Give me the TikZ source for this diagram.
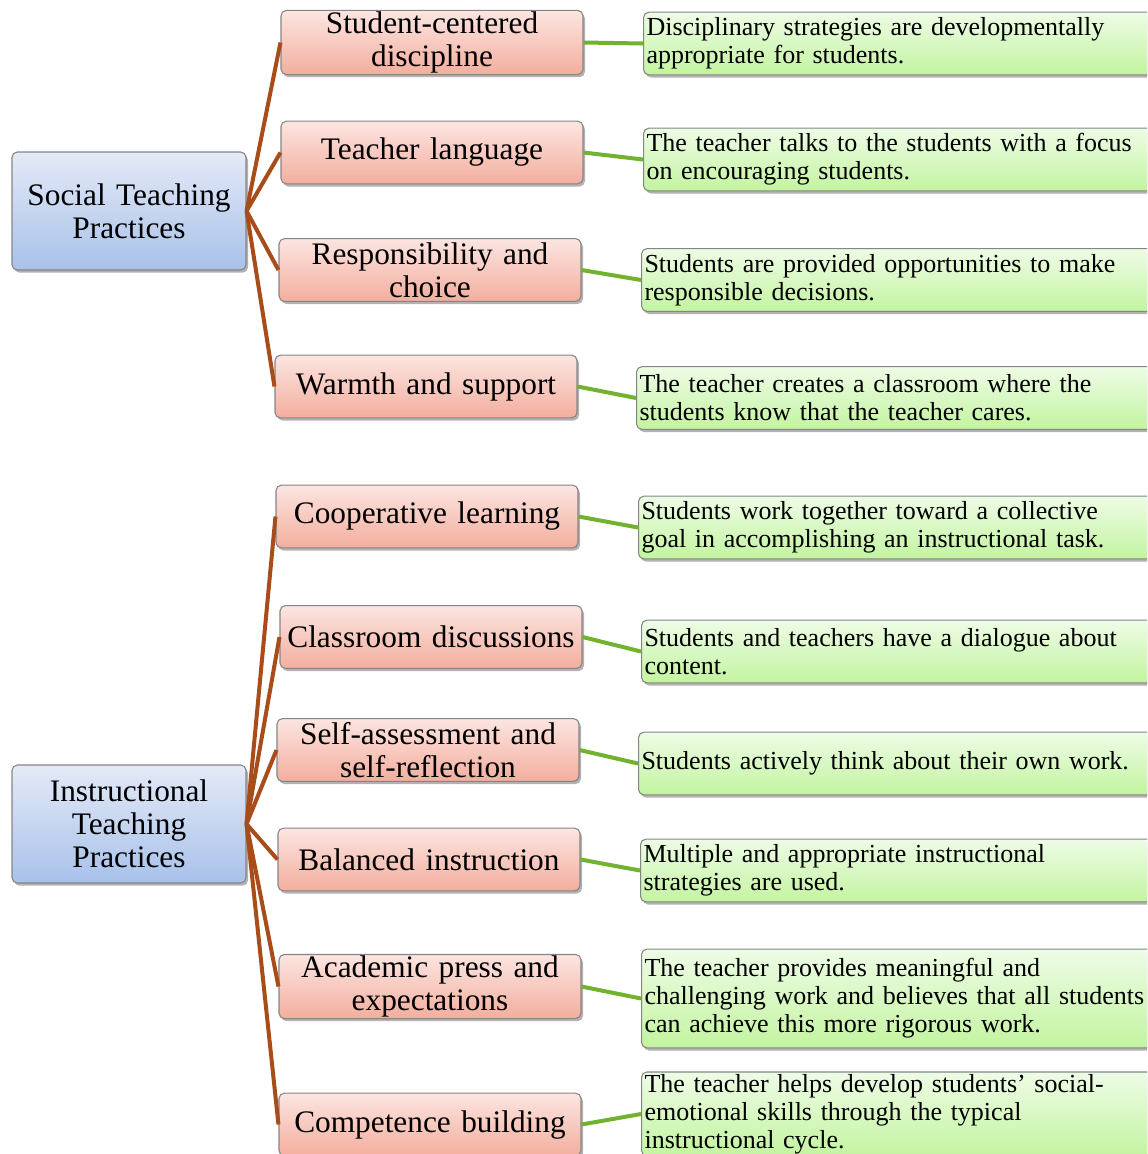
\documentclass[tikz,border=0pt]{standalone}
\usepackage{fontspec}
\setmainfont{Liberation Serif}
\usetikzlibrary{shadows}

\definecolor{rootTop}{HTML}{E4EAF7}
\definecolor{rootBot}{HTML}{A8C1EA}
\definecolor{pinkTop}{HTML}{FCE5E1}
\definecolor{pinkBot}{HTML}{F3AE9E}
\definecolor{leafTop}{HTML}{EEFCE6}
\definecolor{leafBot}{HTML}{C3F4A0}
\definecolor{boxBorder}{HTML}{858585}
\definecolor{branchBrown}{HTML}{A84D19}
\definecolor{linkGreen}{HTML}{71B22E}

\begin{document}
\begin{tikzpicture}[
    x=0.75pt, y=-0.75pt,
    box/.style={draw=boxBorder, line width=0.8pt, rounded corners=4pt,
      drop shadow={shadow xshift=1.5pt, shadow yshift=-2pt, opacity=0.3, fill=black}},
    root/.style={box, top color=rootTop, bottom color=rootBot, inner sep=2pt,
      minimum width=175.5pt, minimum height=88.5pt, text width=170pt, align=center,
      font=\fontsize{23.5}{24.75}\selectfont},
    practice/.style={box, top color=pinkTop, bottom color=pinkBot, inner sep=1pt,
      minimum width=226.5pt, minimum height=47pt, text width=224pt, align=center,
      font=\fontsize{23.5}{24.75}\selectfont},
    descr/.style={box, top color=leafTop, bottom color=leafBot, anchor=west,
      inner xsep=2.25pt, inner ysep=1pt, minimum height=47pt, text width=400pt,
      align=left, font=\fontsize{19.5}{21}\selectfont},
    branch/.style={draw=branchBrown, line width=3pt},
    link/.style={draw=linkGreen, line width=3pt}
  ]
    \clip (0,0) rectangle (1147,1154);

    % roots
    \node[root] (social) at (129,211) {Social Teaching\\Practices};
    \node[root] (instr)  at (129,824) {Instructional\\Teaching\\Practices};

    % practices
    \node[practice] (p1)  at (432,42.5)   {Student-centered\\discipline};
    \node[practice] (p2)  at (432,152.5)  {Teacher language};
    \node[practice] (p3)  at (430,270)    {Responsibility and\\choice};
    \node[practice] (p4)  at (426,386.5)  {Warmth and support};
    \node[practice] (p5)  at (427,516.5)  {Cooperative learning};
    \node[practice] (p6)  at (431,637)    {Classroom discussions};
    \node[practice] (p7)  at (428,750)    {Self-assessment and\\self-reflection};
    \node[practice] (p8)  at (429,859.5)  {Balanced instruction};
    \node[practice] (p9)  at (430,986.5)  {Academic press and\\expectations};
    \node[practice] (p10) at (430,1124.5) {Competence building};

    % descriptions
    \node[descr] (d1)  at (643,43.5)  {Disciplinary strategies are developmentally\\appropriate for students.};
    \node[descr] (d2)  at (643,159.5) {The teacher talks to the students with a focus\\on encouraging students.};
    \node[descr] (d3)  at (641,280)   {Students are provided opportunities to make\\responsible decisions.};
    \node[descr] (d4)  at (636,398)   {The teacher creates a classroom where the\\students know that the teacher cares.};
    \node[descr] (d5)  at (638,527.5) {Students work together toward a collective\\goal in accomplishing an instructional task.};
    \node[descr] (d6)  at (641,651.5) {Students and teachers have a dialogue about\\content.};
    \node[descr] (d7)  at (638,763.5) {Students actively think about their own work.};
    \node[descr] (d8)  at (640,870.5) {Multiple and appropriate instructional\\strategies are used.};
    \node[descr, minimum height=74pt] (d9) at (641,998.5)
      {The teacher provides meaningful and\\challenging work and believes that all students\\can achieve this more rigorous work.};
    \node[descr, minimum height=63pt] (d10) at (641,1114)
      {The teacher helps develop students’ social-\\emotional skills through the typical\\instructional cycle.};

    % root to practice
    \draw[branch] (social.east) -- (p1.west);
    \draw[branch] (social.east) -- (p2.west);
    \draw[branch] (social.east) -- (p3.west);
    \draw[branch] (social.east) -- (p4.west);
    \draw[branch] (instr.east) -- (p5.west);
    \draw[branch] (instr.east) -- (p6.west);
    \draw[branch] (instr.east) -- (p7.west);
    \draw[branch] (instr.east) -- (p8.west);
    \draw[branch] (instr.east) -- (p9.west);
    \draw[branch] (instr.east) -- (p10.west);

    % practice to description
    \draw[link] (p1.east) -- (d1.west);
    \draw[link] (p2.east) -- (d2.west);
    \draw[link] (p3.east) -- (d3.west);
    \draw[link] (p4.east) -- (d4.west);
    \draw[link] (p5.east) -- (d5.west);
    \draw[link] (p6.east) -- (d6.west);
    \draw[link] (p7.east) -- (d7.west);
    \draw[link] (p8.east) -- (d8.west);
    \draw[link] (p9.east) -- (d9.west);
    \draw[link] (p10.east) -- (d10.west);
\end{tikzpicture}
\end{document}
